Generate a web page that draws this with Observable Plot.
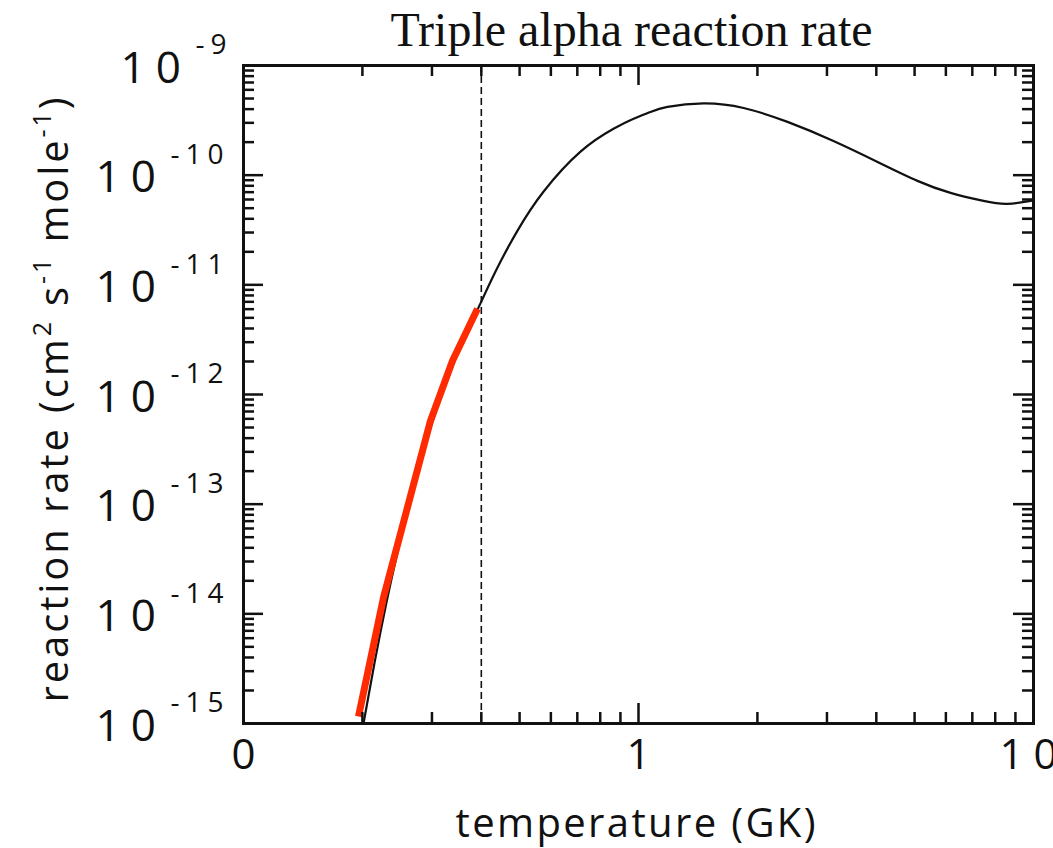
<!DOCTYPE html>
<html><head><meta charset="utf-8">
<script src="https://cdn.jsdelivr.net/npm/d3@7"></script>
<script src="https://cdn.jsdelivr.net/npm/@observablehq/plot@0.6"></script>
<style>body{margin:0;background:#fff}</style>
</head><body><div id="chart"></div>
<script>
// ---- text ----
const titleText = "Triple alpha reaction rate";
const xLabelText = "temperature (GK)";
const yLabelParts = [["reaction rate (cm", 0], ["2", 1], [" s", 0], ["-1", 1], [" mole", 0], ["-1", 1], [")", 0]];
const yLabelText = yLabelParts.map(p => p[0]).join("");

// ---- data ----
// black curve: temperature (GK) and rate
const blackT = [0.2013, 0.2146, 0.2301, 0.2497, 0.2726, 0.2975, 0.3382, 0.398, 0.4396, 0.494, 0.5746, 0.7132, 0.8645, 0.972, 1.072, 1.184, 1.461, 1.845, 2.384, 3.116, 4.03, 5.085, 6.166, 7.47, 8.59, 9.83, 10];
const blackR = [1.0e-15, 3.56e-15, 1.27e-14, 4.75e-14, 1.65e-13, 4.97e-13, 1.81e-12, 6.78e-12, 1.44e-11, 3.12e-11, 7.06e-11, 1.64e-10, 2.65e-10, 3.27e-10, 3.77e-10, 4.19e-10, 4.51e-10, 4.10e-10, 3.06e-10, 2.05e-10, 1.32e-10, 8.87e-11, 6.89e-11, 5.82e-11, 5.47e-11, 5.82e-11, 5.9e-11];
// red segment
const redT = [0.1955, 0.2262, 0.2975, 0.3382, 0.3912];
const redR = [1.16e-15, 1.41e-14, 5.77e-13, 2.03e-12, 6.04e-12];
// dashed threshold
const thresholdT = [0.4];

// ---- ticks ----
const xTickValues = [0.1, 1, 10];
const xTickLabels = ["0", "1", "10"];
const xMajorInner = [1];
const xMinor = [0.2, 0.3, 0.4, 0.5, 0.6, 0.7, 0.8, 0.9, 2, 3, 4, 5, 6, 7, 8, 9];
const yExponents = [-9, -10, -11, -12, -13, -14, -15];
const yMajorInner = [1e-14, 1e-13, 1e-12, 1e-11, 1e-10];
const yMinorMantissa = [2, 3, 4, 5, 6, 7, 8, 9];
const yDecades = [-15, -14, -13, -12, -11, -10];
const yMinor = yDecades.flatMap(k => yMinorMantissa.map(m => m * Math.pow(10, k)));

const black = blackT.map((t, i) => ({T: t, R: blackR[i]}));
const red = redT.map((t, i) => ({T: t, R: redR[i]}));

const W = 1053, H = 848;
const mL = 243, mR = 20, mT = 65, mB = 125;
const innerW = W - mL - mR, innerH = H - mT - mB;
const majLen = 20, minLen = 11, tickW = 2.5;
const numFont = "'Open Sans', 'DejaVu Sans', sans-serif";

const tickMarks = [
  Plot.ruleX(xMinor, {insetTop: innerH - minLen, stroke: "#111", strokeWidth: tickW}),
  Plot.ruleX(xMinor, {insetBottom: innerH - minLen, stroke: "#111", strokeWidth: tickW}),
  Plot.ruleX(xMajorInner, {insetTop: innerH - majLen, stroke: "#111", strokeWidth: tickW}),
  Plot.ruleX(xMajorInner, {insetBottom: innerH - majLen, stroke: "#111", strokeWidth: tickW}),
  Plot.ruleY(yMinor, {insetRight: innerW - minLen, stroke: "#111", strokeWidth: tickW}),
  Plot.ruleY(yMinor, {insetLeft: innerW - minLen, stroke: "#111", strokeWidth: tickW}),
  Plot.ruleY(yMajorInner, {insetRight: innerW - majLen, stroke: "#111", strokeWidth: tickW}),
  Plot.ruleY(yMajorInner, {insetLeft: innerW - majLen, stroke: "#111", strokeWidth: tickW})
];

const yMain = yExponents.filter(k => k !== -9);
const yTop = yExponents.filter(k => k === -9);
const baseOpts = {frameAnchor: "left", text: () => "10", textAnchor: "start", lineAnchor: "middle", dy: 3, fontSize: 44, fontFamily: numFont, fill: "#111"};
const expOpts = {frameAnchor: "left", text: d => String(d), textAnchor: "start", lineAnchor: "middle", dy: -20, fontSize: 28, fontFamily: numFont, fill: "#111"};

const svg = Plot.plot({
  width: W, height: H,
  marginLeft: mL, marginRight: mR, marginTop: mT, marginBottom: mB,
  x: {type: "log", domain: [0.1, 10], axis: null},
  y: {type: "log", domain: [1e-15, 1e-9], axis: null},
  style: {background: "#fff", color: "#111"},
  marks: [
    Plot.ruleX(thresholdT, {stroke: "#111", strokeWidth: 1.6, strokeDasharray: "7,4"}),
    Plot.line(black, {x: "T", y: "R", stroke: "#111", strokeWidth: 2.2, curve: "natural", clip: true}),
    Plot.line(red, {x: "T", y: "R", stroke: "#ff2a00", strokeWidth: 7, strokeLinecap: "butt", strokeLinejoin: "round", curve: "linear"}),
    ...tickMarks,
    Plot.frame({stroke: "#111", strokeWidth: 3}),
    // x tick labels
    Plot.text(xTickValues, {x: d => d, frameAnchor: "bottom", lineAnchor: "top", text: (d, i) => xTickLabels[i], dy: 16, fontSize: 42, fontFamily: numFont, fill: "#111", className: "xtl"}),
    // y tick labels: base "10" and exponent
    Plot.text(yMain, {y: d => Math.pow(10, d), ...baseOpts, dx: -148, className: "ybase"}),
    Plot.text(yMain, {y: d => Math.pow(10, d), ...expOpts, dx: -73, className: "yexp"}),
    Plot.text(yTop, {y: d => Math.pow(10, d), ...baseOpts, dx: -123, className: "ybase"}),
    Plot.text(yTop, {y: d => Math.pow(10, d), ...expOpts, dx: -48, className: "yexp"}),
    // axis labels and title
    Plot.text([xLabelText], {text: d => d, frameAnchor: "bottom", lineAnchor: "middle", dx: -3, dy: 101, fontSize: 40, fontFamily: numFont, fill: "#111"}),
    Plot.text([yLabelText], {text: d => d, frameAnchor: "left", lineAnchor: "middle", textAnchor: "start", rotate: -90, dx: -188, dy: 308, fontSize: 40, fontFamily: numFont, fill: "#111"}),
    Plot.text([titleText], {text: d => d, frameAnchor: "top", lineAnchor: "middle", dx: -7, dy: -35, fontSize: 48, fontFamily: "'Liberation Serif', 'Times New Roman', serif", fill: "#111"})
  ]
});
document.getElementById("chart").append(svg);

const s = d3.select(svg);
s.selectAll("text").filter(function () { return this.textContent === yLabelText; }).each(function () {
  const t = d3.select(this);
  t.text(null);
  yLabelParts.forEach(([str, sup], i) => {
    const ts = t.append("tspan").text(str);
    if (sup) ts.attr("dy", -17).attr("font-size", 25);
    else if (i > 0 && yLabelParts[i - 1][1]) ts.attr("dy", 17);
  });
  t.attr("textLength", 605).attr("lengthAdjust", "spacing");
});
s.selectAll("text").filter(function () { return this.textContent === xLabelText; })
  .attr("textLength", 360).attr("lengthAdjust", "spacing");
s.selectAll("text").filter(function () { return this.textContent === "10"; })
  .attr("letter-spacing", 10);
s.selectAll(".yexp text").attr("letter-spacing", 6);
</script>
</body></html>
